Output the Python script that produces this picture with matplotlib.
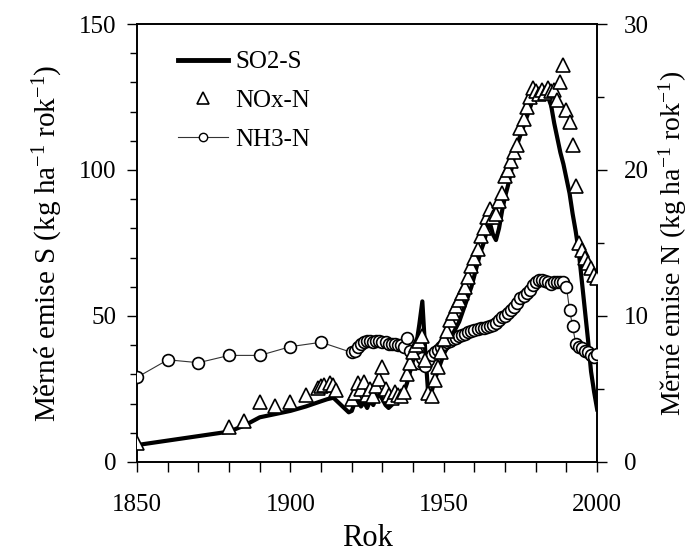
import matplotlib
matplotlib.use("Agg")
import matplotlib.pyplot as plt
from matplotlib.lines import Line2D
from matplotlib.ticker import MultipleLocator

plt.rcParams['font.family'] = ['Liberation Serif', 'DejaVu Serif']
plt.rcParams['mathtext.fontset'] = 'custom'
plt.rcParams['mathtext.rm'] = 'Liberation Serif'
plt.rcParams['mathtext.it'] = 'Liberation Serif:italic'

# --- SO2-S emissions (kg S / ha / yr), left axis ---
so2_years = [1850, 1880, 1885, 1890, 1900, 1905, 1910, 1912, 1914, 1916, 1918, 1919,
             1920, 1921, 1922, 1923, 1924, 1925, 1926, 1927, 1928, 1929,
             1930, 1931, 1932, 1933, 1934, 1935, 1936, 1937, 1938, 1939,
             1940, 1941, 1942, 1943, 1944, 1945, 1946, 1947, 1948, 1949,
             1950, 1951, 1952, 1953, 1954, 1955, 1956, 1957, 1958, 1959,
             1960, 1961, 1962, 1963, 1964, 1965, 1966, 1967, 1968, 1969,
             1970, 1971, 1972, 1973, 1974, 1975, 1976, 1977, 1978, 1979,
             1980, 1981, 1982, 1983, 1984, 1985, 1986, 1987, 1988, 1989,
             1990, 1991, 1992, 1993, 1994, 1995, 1996, 1997, 1998, 1999, 2000]
so2_s = [5.8, 10.4, 12.5, 15.3, 17.5, 19.0, 20.8, 21.5, 22.0, 20.0, 18.0, 17.0,
         17.5, 20.5, 21.5, 19.0, 20.5, 18.5, 21.0, 19.5, 22.0, 23.0,
         21.5, 19.5, 18.5, 19.5, 20.5, 21.5, 22.5, 24.0, 27.0, 31.0,
         34.0, 40.0, 47.0, 55.0, 37.0, 22.0, 24.0, 28.0, 31.0, 34.0,
         37.0, 39.0, 41.0, 44.0, 46.0, 48.0, 51.0, 54.0, 57.0, 60.0,
         64.0, 68.0, 72.0, 75.0, 79.0, 82.0, 78.0, 76.0, 80.0, 86.0,
         91.0, 95.0, 100.0, 105.0, 109.0, 112.0, 115.0, 118.0, 121.0, 124.0,
         125.0, 126.0, 125.0, 126.0, 125.0, 122.0, 116.0, 111.0, 106.0, 102.0,
         97.0, 92.0, 85.0, 79.0, 72.0, 62.0, 52.0, 42.0, 31.0, 24.0, 18.0]

# --- NOx-N emissions (kg N / ha / yr), right axis ---
nox_years = [1850, 1880, 1885, 1890, 1895, 1900, 1905, 1909, 1910, 1911, 1913, 1914, 1915,
             1920, 1921, 1922, 1923, 1924, 1925, 1926, 1927, 1928, 1929,
             1930, 1931, 1932, 1933, 1934, 1935, 1936, 1937, 1938, 1939,
             1940, 1941, 1942, 1943, 1944, 1945, 1946, 1947, 1948, 1949,
             1950, 1951, 1952, 1953, 1954, 1955, 1956, 1957, 1958, 1959,
             1960, 1961, 1962, 1963, 1964, 1965, 1966, 1967, 1968, 1969,
             1970, 1971, 1972, 1973, 1974, 1975, 1976, 1977, 1978, 1979,
             1980, 1981, 1982, 1983, 1984, 1985, 1986, 1987, 1988, 1989,
             1990, 1991, 1992, 1993, 1994, 1995, 1996, 1997, 1998, 1999, 2000]
nox_n = [1.3, 2.4, 2.8, 4.1, 3.8, 4.1, 4.6, 5.1, 5.2, 5.3, 5.4, 5.3, 4.9,
         4.3, 4.7, 5.4, 5.0, 5.5, 4.6, 5.0, 4.5, 5.2, 5.7,
         6.5, 5.0, 4.6, 4.4, 4.8, 4.6, 4.5, 4.8, 6.0, 6.8,
         7.5, 8.0, 8.3, 8.6, 7.0, 4.7, 4.5, 5.6, 6.5, 7.5,
         8.4, 9.0, 9.7, 10.2, 10.7, 11.1, 11.6, 12.0, 12.7, 13.4,
         14.0, 14.6, 15.5, 16.0, 16.8, 17.3, 16.8, 17.0, 17.9, 18.4,
         19.6, 20.0, 20.6, 21.2, 21.7, 22.9, 23.5, 24.3, 25.0, 25.6,
         25.4, 25.2, 25.5, 25.3, 25.6, 25.4, 25.5, 24.8, 26.0, 27.2,
         24.1, 23.3, 21.7, 18.9, 15.0, 14.5, 14.0, 13.6, 13.3, 12.8, 12.6]

# --- NH3-N emissions (kg N / ha / yr), right axis ---
nh3_years = [1850, 1860, 1870, 1880, 1890, 1900, 1910,
             1920, 1921, 1922, 1923, 1924, 1925, 1926, 1927, 1928, 1929,
             1930, 1931, 1932, 1933, 1934, 1935, 1936, 1937, 1938, 1939,
             1940, 1941, 1942, 1943, 1944, 1945, 1946, 1947, 1948, 1949,
             1950, 1951, 1952, 1953, 1954, 1955, 1956, 1957, 1958, 1959,
             1960, 1961, 1962, 1963, 1964, 1965, 1966, 1967, 1968, 1969,
             1970, 1971, 1972, 1973, 1974, 1975, 1976, 1977, 1978, 1979,
             1980, 1981, 1982, 1983, 1984, 1985, 1986, 1987, 1988, 1989,
             1990, 1991, 1992, 1993, 1994, 1995, 1996, 1997, 1998, 1999, 2000]
nh3_n = [5.8, 7.0, 6.8, 7.3, 7.3, 7.9, 8.2,
         7.5, 7.6, 7.9, 8.1, 8.2, 8.3, 8.3, 8.2, 8.3, 8.3,
         8.2, 8.2, 8.1, 8.1, 8.1, 8.0, 8.0, 7.9, 8.5, 7.6,
         7.0, 7.3, 6.8, 7.1, 6.6, 7.0, 7.3, 7.5, 7.7, 7.9,
         8.1, 8.2, 8.3, 8.4, 8.5, 8.6, 8.7, 8.8, 8.9, 9.0,
         9.05, 9.1, 9.15, 9.2, 9.25, 9.3, 9.4, 9.5, 9.7, 9.9,
         10.0, 10.2, 10.4, 10.6, 10.9, 11.2, 11.4, 11.6, 11.8, 12.1,
         12.3, 12.45, 12.45, 12.4, 12.3, 12.2, 12.3, 12.3, 12.35, 12.3,
         12.0, 10.4, 9.3, 8.1, 7.9, 7.8, 7.6, 7.5, 7.3, 7.2, 7.4]

fig = plt.figure(figsize=(6.96, 5.53), dpi=100)
ax = fig.add_axes([0.197, 0.1646, 0.661, 0.792])
ax2 = ax.twinx()

ax.plot(so2_years, so2_s, color='black', lw=3.0, zorder=2, solid_joinstyle='round')
ax2.plot(nh3_years, nh3_n, color='#333333', lw=0.8, marker='o', ms=8.5,
         mfc='white', mec='black', mew=1.2, zorder=3)
ax2.plot(nox_years, nox_n, ls='none', marker='^', ms=10.5,
         mfc='white', mec='black', mew=1.2, zorder=4)

ax.set_xlim(1850, 2000)
ax.set_ylim(0, 150)
ax2.set_ylim(0, 30)

ax.xaxis.set_major_locator(MultipleLocator(50))
ax.xaxis.set_minor_locator(MultipleLocator(10))
ax.yaxis.set_major_locator(MultipleLocator(50))
ax.yaxis.set_minor_locator(MultipleLocator(10))
ax2.yaxis.set_major_locator(MultipleLocator(10))
ax2.yaxis.set_minor_locator(MultipleLocator(5))

for a in (ax, ax2):
    a.tick_params(which='major', direction='out', length=7, width=1.0, labelsize=18)
    a.tick_params(which='minor', direction='out', length=5, width=1.0)
ax.tick_params(axis='x', which='minor', length=7)
ax.tick_params(axis='x', which='major', pad=16)
ax.tick_params(axis='y', which='major', pad=8)
ax2.tick_params(axis='y', which='major', pad=12)
ax.tick_params(top=False, which='both')
ax2.tick_params(top=False, which='both')

for a in (ax, ax2):
    for sp in a.spines.values():
        sp.set_linewidth(1.2)

ax.set_xlabel('Rok', fontsize=22, labelpad=6)
ax.set_ylabel('Měrné emise S (kg ha$^{-1}$ rok$^{-1}$)', fontsize=21, labelpad=10)
ax2.set_ylabel('Měrné emise N (kg ha$^{-1}$ rok$^{-1}$)', fontsize=20, labelpad=6,
               rotation=90)

handles = [
    Line2D([], [], color='black', lw=3.5),
    Line2D([], [], ls='none', marker='^', ms=8, mfc='white', mec='black', mew=1.2),
    Line2D([], [], color='#333333', lw=0.8, marker='o', ms=6, mfc='white', mec='black', mew=1.0),
]
ax2.legend(handles, ['SO2-S', 'NOx-N', 'NH3-N'], loc='upper left',
           bbox_to_anchor=(0.04, 0.99), frameon=False, fontsize=18,
           handlelength=2.0, handletextpad=0.3, labelspacing=0.65)

fig.savefig('out.png', dpi=100)
